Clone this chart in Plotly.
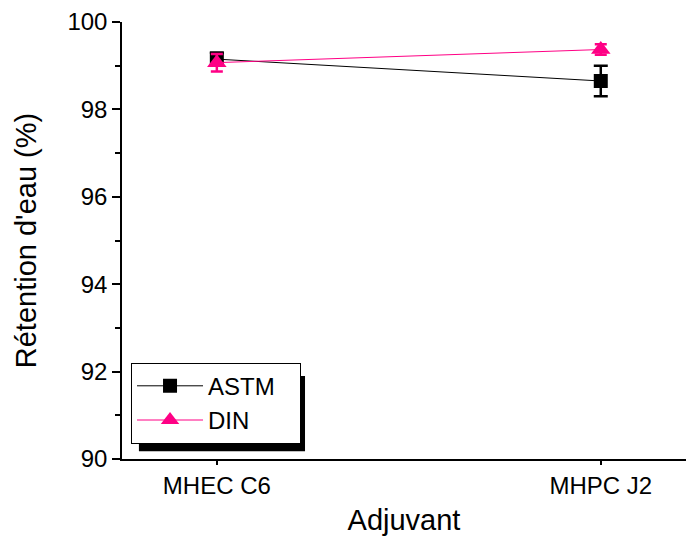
import plotly.graph_objects as go

categories = ["MHEC C6", "MHPC J2"]
series_names = ["ASTM", "DIN"]
astm_values = [99.15, 98.65]
astm_errors = [0.15, 0.35]
din_values = [99.07, 99.37]
din_errors = [0.2, 0.12]
y_tickvals = [90, 92, 94, 96, 98, 100]

x_pos = [1, 2]
PINK = "#FF0085"
FONT = "Liberation Sans, Arial, sans-serif"
PAD = "\u00a0\u00a0\u00a0"

fig = go.Figure()
fig.add_trace(go.Scatter(
    x=x_pos, y=astm_values, name=series_names[0] + PAD, mode="lines+markers",
    line=dict(color="black", width=1),
    marker=dict(symbol="square", size=14, color="black"),
    error_y=dict(type="data", array=astm_errors, color="black", thickness=2.5, width=7),
))
fig.add_trace(go.Scatter(
    x=x_pos, y=din_values, name=series_names[1], mode="lines+markers",
    line=dict(color=PINK, width=1),
    marker=dict(symbol="triangle-up", size=17, color=PINK),
    error_y=dict(type="data", array=din_errors, color=PINK, thickness=2.5, width=6),
))

fig.update_layout(
    width=686, height=536,
    margin=dict(l=122, r=0, t=22, b=77),
    paper_bgcolor="white", plot_bgcolor="white",
    font=dict(family=FONT, color="black"),
    showlegend=True,
    legend=dict(
        x=0.016, y=0.035, xanchor="left", yanchor="bottom",
        bgcolor="white", bordercolor="black", borderwidth=1,
        font=dict(size=24, family=FONT), itemwidth=66,
        tracegroupgap=0,
    ),
    shapes=[dict(type="rect", xref="paper", yref="paper",
                 x0=0.030, x1=0.3245, y0=0.018, y1=0.19,
                 fillcolor="black", line=dict(width=0), layer="above")],
)
fig.update_xaxes(
    range=[0.753, 2.222], tickvals=x_pos, ticktext=categories,
    showline=True, linecolor="black", linewidth=1.5,
    ticks="outside", ticklen=4, tickcolor="black", tickwidth=1.5,
    showgrid=False, zeroline=False,
    tickfont=dict(size=24, family=FONT),
    title=dict(text="Adjuvant", font=dict(size=29, family=FONT), standoff=14),
)
fig.update_yaxes(
    range=[90, 100], tickvals=y_tickvals,
    showline=True, linecolor="black", linewidth=1.5,
    ticks="outside", ticklen=8, tickcolor="black", tickwidth=1.5,
    minor=dict(dtick=1, ticks="outside", ticklen=5, tickcolor="black", tickwidth=1.5),
    showgrid=False, zeroline=False,
    tickfont=dict(size=24, family=FONT),
    title=dict(text="Rétention d'eau (%)", font=dict(size=29, family=FONT), standoff=22),
)

fig.write_html("out.html", config={"displayModeBar": False},
               post_script="document.body.style.margin='0px';")
